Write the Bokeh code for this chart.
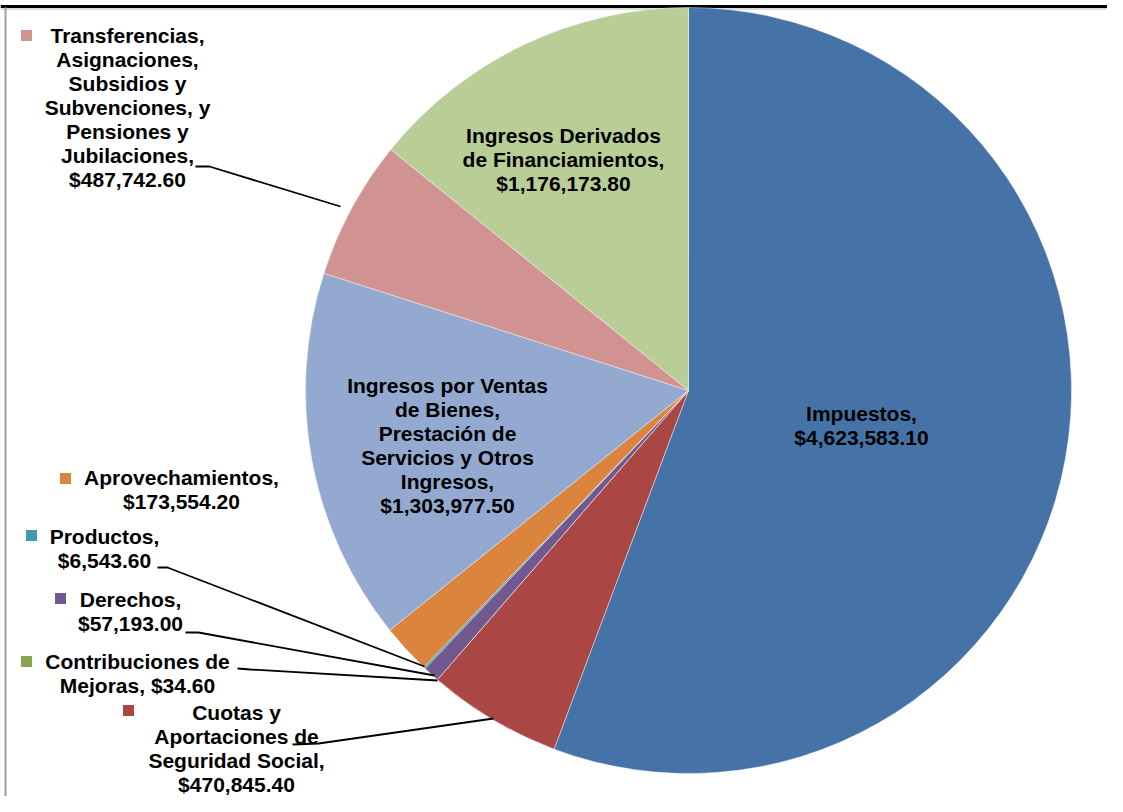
import math
from bokeh.plotting import figure
from bokeh.models import Range1d, ColumnDataSource
from bokeh.core.properties import value
from bokeh.embed import file_html
from bokeh.resources import INLINE

# ---------------- data ----------------
categories = [
    "Impuestos",
    "Cuotas y Aportaciones de Seguridad Social",
    "Contribuciones de Mejoras",
    "Derechos",
    "Productos",
    "Aprovechamientos",
    "Ingresos por Ventas de Bienes, Prestación de Servicios y Otros Ingresos",
    "Transferencias, Asignaciones, Subsidios y Subvenciones, y Pensiones y Jubilaciones",
    "Ingresos Derivados de Financiamientos",
]
amounts = [4623583.10, 470845.40, 34.60, 57193.00, 6543.60,
           173554.20, 1303977.50, 487742.60, 1176173.80]
colors = ["#4572A7", "#AA4643", "#89A54E", "#71588F", "#4198AF",
          "#DB843D", "#93A9CF", "#D19392", "#B9CD96"]
label_templates = [
    "Impuestos,\n{v}",
    "Cuotas y\nAportaciones de\nSeguridad Social,\n{v}",
    "Contribuciones de\nMejoras, {v}",
    "Derechos,\n{v}",
    "Productos,\n{v}",
    "Aprovechamientos,\n{v}",
    "Ingresos por Ventas\nde Bienes,\nPrestación de\nServicios y Otros\nIngresos,\n{v}",
    "Transferencias,\nAsignaciones,\nSubsidios y\nSubvenciones, y\nPensiones y\nJubilaciones,\n{v}",
    "Ingresos Derivados\nde Financiamientos,\n{v}",
]

# ---------------- layout (screen pixel coordinates, y downwards) ----------------
W, H = 1107, 796
CX, CY, R = 688, 390, 383
label_anchor = [(861, 414), (236, 713), (137, 662), (130, 600), (104, 537),
                (181, 478), (447, 386), (127, 36), (563, 136)]
key_pos = [None, (128, 710), (26, 661), (60, 598), (31, 535),
           (65, 478), None, (26, 35), None]
leaders = [
    None,
    [(292, 744), (318, 743), (493, 718)],
    [(237, 668), (250, 669), (437, 680)],
    [(185, 632), (198, 632), (434, 675)],
    [(157, 567), (167, 567), (424, 666)],
    None,
    None,
    [(195, 166), (209, 166), (340, 206)],
    None,
]
LINE_H = 24
FONT_PX = 21
BASE_OFF = -1.0   # baseline position relative to the line's visual centre


def fy(y):
    return H - y


p = figure(width=W, height=H, output_backend="svg", toolbar_location=None,
           x_range=Range1d(0, W), y_range=Range1d(0, H),
           x_axis_type=None, y_axis_type=None, min_border=0)
p.grid.visible = False
p.outline_line_color = None
p.background_fill_color = "white"
p.border_fill_color = "white"

# frame lines
p.segment(x0=[0], y0=[fy(6)], x1=[W], y1=[fy(6)], line_color="black", line_width=3)
p.segment(x0=[0], y0=[fy(8.5)], x1=[W], y1=[fy(8.5)], line_color="#B8B8B8", line_width=1)
p.segment(x0=[5], y0=[fy(7)], x1=[5], y1=[fy(H)], line_color="#A0A0A0", line_width=2)

# wedges
total = sum(amounts)
starts, ends = [], []
cum = 0.0
for a in amounts:
    starts.append(math.pi / 2 - 2 * math.pi * cum / total)
    cum += a
    ends.append(math.pi / 2 - 2 * math.pi * cum / total)

src = ColumnDataSource(dict(x=[CX] * len(amounts), y=[fy(CY)] * len(amounts),
                            start=starts, end=ends, color=colors, cat=categories))
p.wedge(x="x", y="y", radius=R, start_angle="start", end_angle="end",
        direction="clock", fill_color="color", line_color="white",
        line_width=0.6, line_alpha=0.7, source=src)

# leader lines
xs, ys = [], []
for ld in leaders:
    if ld:
        xs.append([pt[0] for pt in ld])
        ys.append([fy(pt[1]) for pt in ld])
p.multi_line(xs=xs, ys=ys, line_color="black", line_width=1.8)

# legend keys
kx, ky, kc = [], [], []
for kp, c in zip(key_pos, colors):
    if kp:
        kx.append(kp[0]); ky.append(fy(kp[1])); kc.append(c)
p.rect(x=kx, y=ky, width=11, height=11, fill_color=kc, line_color=None)

# labels
tx, ty, tt = [], [], []
for tmpl, amt, (ax, ay) in zip(label_templates, amounts, label_anchor):
    text = tmpl.format(v="${:,.2f}".format(amt))
    for i, line in enumerate(text.split("\n")):
        tx.append(ax)
        ty.append(fy(ay + i * LINE_H + BASE_OFF))
        tt.append(line)
p.text(x=tx, y=ty, text=tt, text_font=value("Liberation Sans"),
       text_font_style="bold", text_font_size=f"{FONT_PX}px",
       text_align="center", text_baseline="alphabetic", text_color="black")

open("out.html", "w").write(file_html(p, INLINE))
